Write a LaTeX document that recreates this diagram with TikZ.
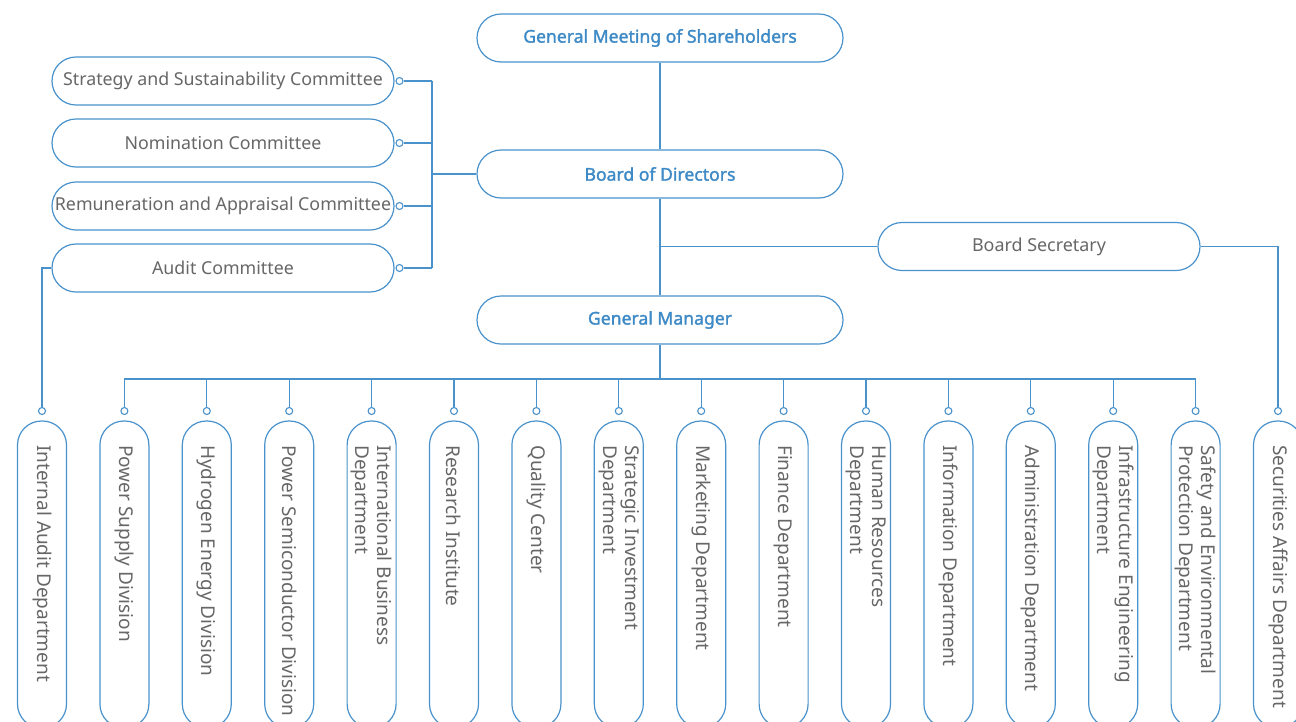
\documentclass[tikz,border=0pt]{standalone}
\usepackage{fontspec}
\setmainfont{Noto Sans}
\newfontfamily\headfont{Noto Sans}[FakeBold=1.6]
\definecolor{lineblue}{HTML}{4A92CC}
\definecolor{headblue}{HTML}{3E8AC6}
\definecolor{txtgray}{HTML}{676767}
\tikzset{
  conn/.style={draw=lineblue, line width=1.2pt},
  topbox/.style={draw=lineblue, line width=1.2pt, fill=white, rounded corners=24pt,
    minimum width=366pt, minimum height=48pt, inner sep=0pt,
    font=\headfont\fontsize{17.6}{20}\selectfont, text=headblue},
  secbox/.style={draw=lineblue, line width=1.2pt, fill=white, rounded corners=24pt,
    minimum width=322pt, minimum height=48pt, inner sep=0pt,
    font=\fontsize{17.9}{20}\selectfont, text=txtgray},
  combox/.style={draw=lineblue, line width=1.2pt, fill=white, rounded corners=24pt,
    minimum width=342pt, minimum height=48pt, inner sep=0pt,
    font=\fontsize{17.8}{20}\selectfont, text=txtgray},
  deptbox/.style={draw=lineblue, line width=1.2pt, fill=white, rounded corners=24pt,
    minimum width=49pt, minimum height=307pt, inner sep=0pt},
  depttext/.style={rotate=-90, anchor=west, align=left, inner sep=0pt,
    font=\fontsize{19}{22}\selectfont, text=txtgray},
  dot/.style={circle, draw=lineblue, line width=1.1pt, fill=white, inner sep=0pt, minimum size=7pt},
}
\begin{document}
\begin{tikzpicture}[x=1pt,y=-1pt]
\useasboundingbox (0,0) rectangle (1296,721);
\clip (0,0) rectangle (1296,721);

% governance chain
\node[topbox] (gms) at (660,38) {General Meeting of Shareholders};
\node[topbox] (bod) at (660,174) {Board of Directors};
\node[topbox] (gmgr) at (660,320) {General Manager};
\node[secbox] (bsec) at (1039,246.5) {Board Secretary};

% board committees
\node[combox] (cm1) at (223,81) {Strategy and Sustainability Committee};
\node[combox] (cm2) at (223,143) {Nomination Committee};
\node[combox] (cm3) at (223,206) {Remuneration and Appraisal Committee};
\node[combox] (cm4) at (223,268) {Audit Committee};
\foreach \i/\yy in {1/81,2/143,3/206,4/268}
  \node[dot] (cd\i) at (399.5,\yy) {};
\coordinate (cbus) at (432,174);
\coordinate (bus) at (660,379);

% departments
\foreach \i/\txt in {
  1/{Internal Audit Department},
  2/{Power Supply Division},
  3/{Hydrogen Energy Division},
  4/{Power Semiconductor Division},
  5/{International Business\\Department},
  6/{Research Institute},
  7/{Quality Center},
  8/{Strategic Investment\\Department},
  9/{Marketing Department},
  10/{Finance Department},
  11/{Human Resources\\Department},
  12/{Information Department},
  13/{Administration Department},
  14/{Infrastructure Engineering\\Department},
  15/{Safety and Environmental\\Protection Department},
  16/{Securities Affairs Department}}
{
  \pgfmathsetmacro{\xx}{42+82.4*(\i-1)}
  \node[deptbox] (d\i) at (\xx,574.5) {};
  \node[depttext] (t\i) at (\xx,445) {\txt};
  \node[dot] (dd\i) at (\xx,411) {};
}

% connectors
\draw[conn] (gms) -- (bod);
\draw[conn] (bod) -- (gmgr);
\draw[conn] (gmgr.south) -- (bus);
\draw[conn] (bod.south |- bsec.west) -- (bsec.west);
\draw[conn] (bsec.east) -| (dd16.north);
\draw[conn] (cbus) -- (bod.west);
\draw[conn] (cd1.east -| cbus) -- (cd4.east -| cbus);
\foreach \i in {1,...,4}
  \draw[conn] (cd\i.east) -- (cd\i.east -| cbus);
\draw[conn] (cm4.west) -| (dd1.north);
\draw[conn] (dd2.north |- bus) -- (dd15.north |- bus);
\foreach \i in {2,...,15}
  \draw[conn] (dd\i.north |- bus) -- (dd\i.north);
\end{tikzpicture}
\end{document}
